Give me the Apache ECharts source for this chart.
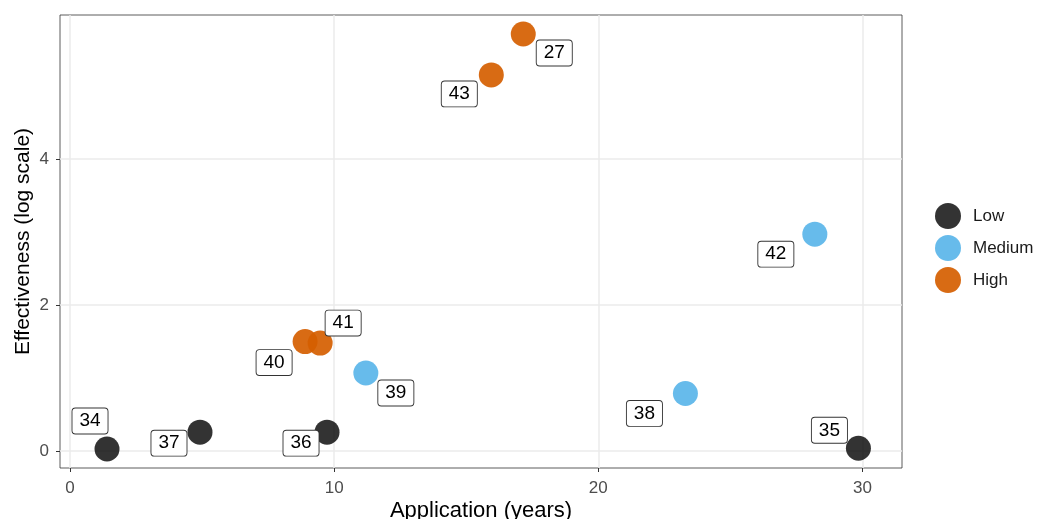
<!DOCTYPE html>
<html><head><meta charset="utf-8">
<script src="https://cdn.jsdelivr.net/npm/echarts@6/dist/echarts.min.js"></script>
<style>html,body{margin:0;padding:0;background:#fff}#c{width:1040px;height:519px}</style>
</head><body><div id="c"></div>
<script>
const groups = ['Low', 'Medium', 'High'];
const ids = ['34', '37', '36', '35', '39', '38', '42', '40', '41', '43', '27'];
const application = [1.4, 4.92, 9.73, 29.85, 11.2, 23.3, 28.2, 8.9, 9.47, 15.95, 17.16];
const effectiveness = [0.03, 0.26, 0.26, 0.04, 1.07, 0.79, 2.97, 1.5, 1.48, 5.15, 5.71];
const level = ['Low', 'Low', 'Low', 'Low', 'Medium', 'Medium', 'Medium', 'High', 'High', 'High', 'High'];
const xTicks = [0, 10, 20, 30];
const yTicks = [0, 2, 4];
// label placement (repel-style offsets, px)
const labelOffsets = {
  '34': [-17, -28], '37': [-31, 11], '36': [-26, 11], '35': [-29, -18],
  '39': [30, 20], '38': [-41, 20], '42': [-39, 20], '40': [-31, 21],
  '41': [23, -20], '43': [-32, 19], '27': [31, 19]
};
const colors = { Low: 'rgba(0,0,0,0.8)', Medium: 'rgba(86,180,233,0.9)', High: 'rgba(213,94,0,0.92)' };
const FONT = 'Liberation Sans, Arial, sans-serif';

const series = groups.map(g => ({
  name: g,
  type: 'scatter',
  symbolSize: 25,
  itemStyle: { color: colors[g], opacity: 1 },
  data: ids.map((id, i) => ({ id, i })).filter(o => level[o.i] === g).map(o => ({
    value: [application[o.i], effectiveness[o.i]],
    name: o.id
  })),
  label: {
    show: true,
    position: 'inside',
    formatter: p => p.name,
    color: '#000',
    fontSize: 19,
    fontFamily: FONT,
    backgroundColor: '#fff',
    borderColor: '#333',
    borderWidth: 0.9,
    borderRadius: 3,
    padding: [4, 7, 2, 7]
  },
  labelLayout: p => {
    const off = labelOffsets[p.text] || [0, 0];
    return { dx: off[0], dy: off[1], hideOverlap: false };
  }
}));

const chart = echarts.init(document.getElementById('c'), null, { renderer: 'canvas' });
chart.setOption({
  animation: false,
  backgroundColor: '#fff',
  textStyle: { fontFamily: FONT },
  grid: { left: 60, right: 138, top: 15, bottom: 51, outerBoundsMode: 'none', containLabel: false,
          show: true, borderColor: '#333', borderWidth: 0.8, backgroundColor: 'transparent' },
  legend: {
    orient: 'vertical', left: 930, top: 198, itemGap: 6,
    itemWidth: 26, itemHeight: 26, icon: 'circle',
    textStyle: { fontSize: 17, color: '#1a1a1a', padding: [0, 0, 0, 7] },
    data: groups
  },
  xAxis: {
    type: 'value', min: -0.38, max: 31.5,
    name: 'Application (years)', nameLocation: 'middle', nameGap: 32, nameMoveOverlap: false,
    nameTextStyle: { fontSize: 22, color: '#000' },
    axisLine: { show: false, onZero: false },
    axisTick: { show: true, length: 4, lineStyle: { color: '#333' }, customValues: xTicks },
    axisLabel: { customValues: xTicks, fontSize: 17, color: '#4d4d4d', margin: 12 },
    splitLine: { show: true, lineStyle: { color: '#ebebeb', width: 1.5 } }
  },
  yAxis: {
    type: 'value', min: -0.23, max: 5.97,
    name: 'Effectiveness (log scale)', nameLocation: 'middle', nameGap: 26, nameRotate: 90, nameMoveOverlap: false,
    nameTextStyle: { fontSize: 21, color: '#000' },
    axisLine: { show: false, onZero: false },
    axisTick: { show: true, length: 4, lineStyle: { color: '#333' }, customValues: yTicks },
    axisLabel: { customValues: yTicks, fontSize: 17, color: '#4d4d4d', margin: 11 },
    splitLine: { show: true, lineStyle: { color: '#ebebeb', width: 1.5 } }
  },
  series
});
</script></body></html>
